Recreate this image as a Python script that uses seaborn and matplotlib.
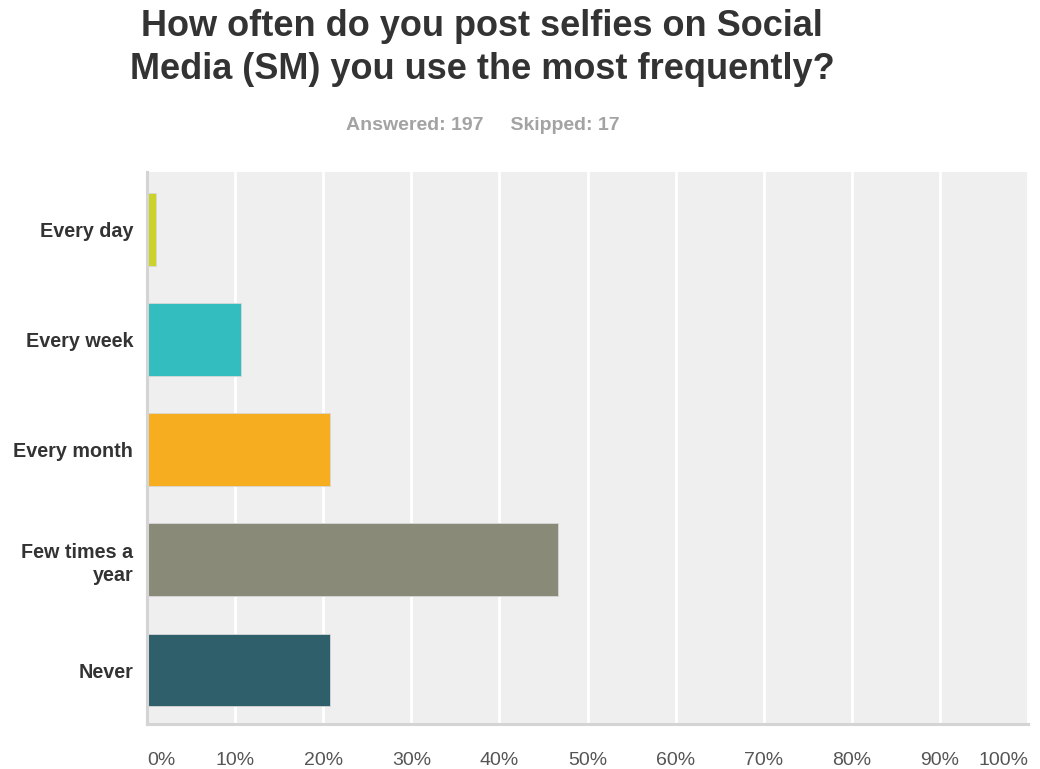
import matplotlib
matplotlib.use("Agg")
import matplotlib.pyplot as plt
import seaborn as sns
import pandas as pd
from matplotlib.ticker import FixedLocator

# Survey responses (share of respondents, %)
categories = ["Every day", "Every week", "Every month", "Few times a\nyear", "Never"]
percentages = [1.02, 10.66, 20.81, 46.70, 20.81]
bar_colors = ["#cbd32a", "#33bdbe", "#f6ae20", "#898a78", "#2f5f6b"]
tick_values = [0, 10, 20, 30, 40, 50, 60, 70, 80, 90, 100]
tick_labels = [f"{v}%" for v in tick_values]

df = pd.DataFrame({"answer": categories, "pct": percentages})

sns.set_theme(style="white")
plt.rcParams["font.family"] = ["Liberation Sans", "DejaVu Sans"]

fig = plt.figure(figsize=(10.4, 7.69), dpi=100)
ax = fig.add_axes([147 / 1040, 1 - 724 / 769, (1028 - 147) / 1040, (724 - 172) / 769])
ax.set_facecolor("#efefef")

sns.barplot(data=df, x="pct", y="answer", hue="answer", palette=bar_colors,
            orient="h", width=0.66, legend=False, ax=ax, saturation=1,
            edgecolor="#d8d8d8", linewidth=0.6)

ax.set_xlim(0, 100)
ax.set_ylim(4.49, -0.52)
ax.xaxis.set_major_locator(FixedLocator(tick_values))
ax.set_xticklabels(tick_labels)
ax.grid(axis="x", color="white", linewidth=2)
ax.set_axisbelow(True)
ax.set_xlabel("")
ax.set_ylabel("")

for name in ["top", "right"]:
    ax.spines[name].set_visible(False)
for name in ["left", "bottom"]:
    ax.spines[name].set_color("#d4d4d4")
    ax.spines[name].set_linewidth(2.2)

ax.tick_params(axis="x", length=0, pad=20, labelsize=14, labelcolor="#555555")
ax.tick_params(axis="y", length=0, pad=10, labelsize=14.2, labelcolor="#333333")
for lbl in ax.get_yticklabels():
    lbl.set_fontweight("bold")
    lbl.set_linespacing(1.3)
xl = ax.get_xticklabels()
xl[0].set_horizontalalignment("left")
xl[-1].set_horizontalalignment("right")

fig.text(0.4635, 0.988, "How often do you post selfies on Social\nMedia (SM) you use the most frequently?",
         ha="center", va="top", fontsize=26, fontweight="bold", color="#333333",
         linespacing=1.27)
fig.text(0.4645, 0.837, "Answered: 197     Skipped: 17", ha="center", va="center",
         fontsize=14, fontweight="bold", color="#a3a3a3")

fig.savefig("out.png", dpi=100)
